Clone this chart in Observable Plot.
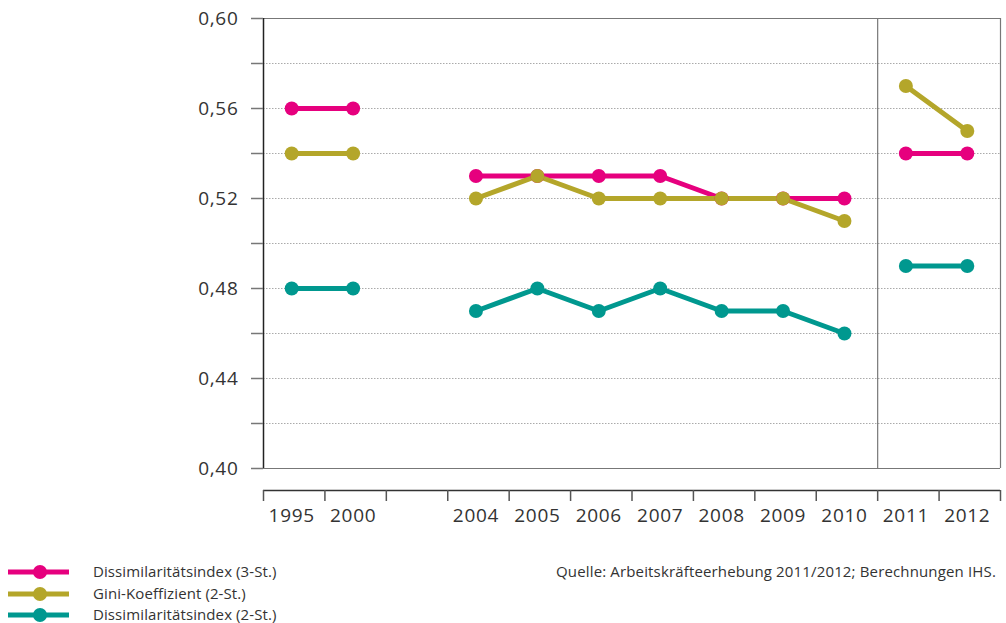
<!DOCTYPE html>
<html>
<head>
<meta charset="utf-8">
<script src="https://cdn.jsdelivr.net/npm/d3@7"></script>
<script src="https://cdn.jsdelivr.net/npm/@observablehq/plot@0.6"></script>
<style>
  body { margin: 0; background: #fff; font-family: "Open Sans", sans-serif; }
  #wrap { position: relative; width: 1006px; height: 623px; overflow: hidden; }
  #chart svg text { letter-spacing: 0.7px; }
  #legend { position: absolute; left: 0; top: 562px; width: 400px; height: 61px; font-size: 15px; color: #333; }
  .row { position: absolute; left: 0; height: 20px; width: 400px; white-space: nowrap; }
  .row svg { position: absolute; left: 8px; top: 0; }
  .row span { position: absolute; left: 93px; top: -1px; line-height: 20px; letter-spacing: 0.1px; }
  #source { position: absolute; right: 10px; top: 561px; font-size: 15px; color: #333; white-space: nowrap; line-height: 20px; letter-spacing: 0.15px; }
</style>
</head>
<body>
<div id="wrap">
  <div id="chart"></div>
  <div id="legend"></div>
  <div id="source">Quelle: Arbeitskräfteerhebung 2011/2012; Berechnungen IHS.</div>
</div>
<script>
// Categories (blank slot = gap between 2000 and 2004)
const years = ["1995", "2000", "", "2004", "2005", "2006", "2007", "2008", "2009", "2010", "2011", "2012"];
// Survey periods (lines are broken between periods)
const periods = [1, 1, null, 2, 2, 2, 2, 2, 2, 2, 3, 3];

const seriesNames = ["Dissimilaritätsindex (3-St.)", "Gini-Koeffizient (2-St.)", "Dissimilaritätsindex (2-St.)"];
const dissim3 = [0.56, 0.56, null, 0.53, 0.53, 0.53, 0.53, 0.52, 0.52, 0.52, 0.54, 0.54];
const gini2   = [0.54, 0.54, null, 0.52, 0.53, 0.52, 0.52, 0.52, 0.52, 0.51, 0.57, 0.55];
const dissim2 = [0.48, 0.48, null, 0.47, 0.48, 0.47, 0.48, 0.47, 0.47, 0.46, 0.49, 0.49];
const seriesColors = ["#e6007e", "#b4a62a", "#00988f"];

const yTicks = [0.40, 0.42, 0.44, 0.46, 0.48, 0.50, 0.52, 0.54, 0.56, 0.58, 0.60];
const yLabels = [0.40, 0.44, 0.48, 0.52, 0.56, 0.60];
const yGrid = [0.42, 0.44, 0.46, 0.48, 0.50, 0.52, 0.54, 0.56, 0.58];

const allSeries = [dissim3, gini2, dissim2];
const rows = [];
allSeries.forEach((vals, s) => {
  vals.forEach((v, i) => {
    rows.push({series: seriesNames[s], idx: i + 0.5, year: years[i], period: periods[i], value: v});
  });
});
const valid = rows.filter(d => d.value != null);
const labelRows = years.map((y, i) => ({idx: i + 0.5, label: y}));
const boundaries = d3.range(0, years.length + 1);

const fmt = d => d.toFixed(2).replace(".", ",");

const chart = Plot.plot({
  width: 1006,
  height: 545,
  marginLeft: 263,
  marginRight: 6,
  marginTop: 18,
  marginBottom: 77,
  style: {fontFamily: "Open Sans, sans-serif", fontSize: "19px", color: "#333", background: "transparent"},
  x: {type: "linear", domain: [0, years.length], axis: null},
  y: {domain: [0.40, 0.60], axis: null},
  color: {domain: seriesNames, range: seriesColors},
  marks: [
    Plot.ruleY(yGrid, {stroke: "#aaa", strokeDasharray: "1.5,1.5", strokeWidth: 1}),
    Plot.ruleY([0.40, 0.60], {stroke: "#777", strokeWidth: 1.2}),
    Plot.ruleX([10, 12], {stroke: "#777", strokeWidth: 1.2}),
    Plot.ruleX([0], {stroke: "#222", strokeWidth: 1.5}),
    Plot.axisY({ticks: yTicks, tickSize: 12, text: null, label: null, stroke: "#777", strokeWidth: 1.5}),
    Plot.axisY({ticks: yLabels, tickSize: 0, tickPadding: 25, tickFormat: fmt, label: null, fill: "#333", fontSize: 19}),
    Plot.line(rows, {x: "idx", y: "value", z: d => d.series + "|" + d.period, stroke: "series", strokeWidth: 5, dx: -2.5}),
    Plot.dot(valid, {x: "idx", y: "value", fill: "series", r: 7, dx: -2.5}),
    // Separate x axis below the plot frame
    Plot.ruleY([0.40], {dy: 22, stroke: "#333", strokeWidth: 1.5}),
    Plot.axisX({ticks: boundaries, tickSize: 11, text: null, label: null, dy: 22, stroke: "#555", strokeWidth: 1.5}),
    Plot.text(labelRows, {x: "idx", text: "label", frameAnchor: "bottom", dy: 53, dx: -2.5, fill: "#333", fontSize: 19})
  ]
});
document.getElementById("chart").appendChild(chart);

// Legend
const legend = document.getElementById("legend");
seriesNames.forEach((name, i) => {
  const row = document.createElement("div");
  row.className = "row";
  row.style.top = (i * 21.5) + "px";
  row.innerHTML = `<svg width="64" height="20"><line x1="0" x2="61" y1="10" y2="10" stroke="${seriesColors[i]}" stroke-width="5"/><circle cx="32" cy="10" r="7" fill="${seriesColors[i]}"/></svg><span>${name}</span>`;
  legend.appendChild(row);
});
</script>
</body>
</html>
